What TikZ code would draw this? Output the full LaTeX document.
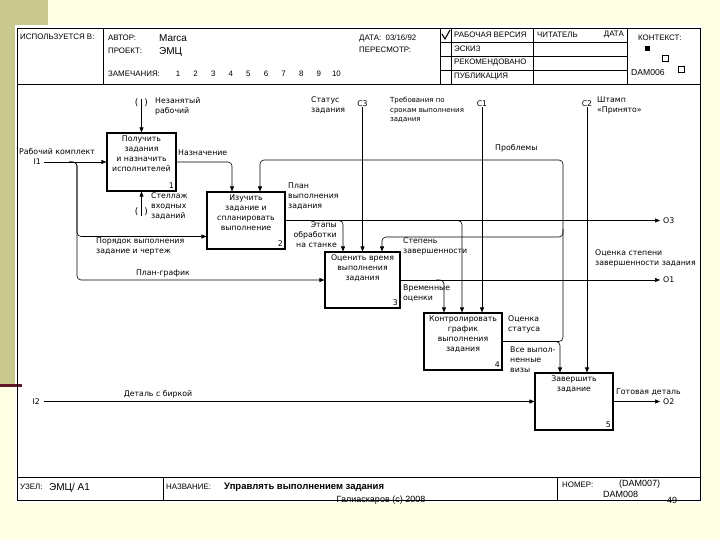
\documentclass[tikz,border=0pt]{standalone}
\usepackage{fontspec}
\setmainfont{DejaVu Sans}
\newfontfamily\formfont{Liberation Sans}
\usetikzlibrary{arrows.meta}

\definecolor{cream}{RGB}{255,255,230}
\definecolor{olivestrip}{RGB}{201,201,143}
\definecolor{maroonbar}{RGB}{96,24,40}

\newcommand{\lblfont}{\fontsize{7.8}{10}\selectfont}
\newcommand{\smallfont}{\fontsize{7}{9.5}\selectfont}
\newcommand{\hdrfont}{\formfont\fontsize{7.9}{9}\selectfont}
\newcommand{\bigfont}{\formfont\fontsize{10}{11}\selectfont}

\tikzset{
  box/.style={draw, line width=1.1pt, inner sep=0pt, minimum width=78pt, minimum height=57pt},
  boxtext/.style={anchor=north, align=center, font=\lblfont, inner sep=3pt},
  num/.style={anchor=south east, inner sep=2.5pt, font=\lblfont},
  lbl/.style={anchor=north west, align=left, font=\lblfont, inner sep=0pt},
  arr/.style={-{Triangle[length=5pt,width=4pt]}, line width=0.6pt, rounded corners=4pt},
  hdr/.style={anchor=west, font=\hdrfont, inner sep=0pt},
  tunnel/.style={font=\fontsize{9}{10}\selectfont, inner sep=0pt}
}

\begin{document}
\begin{tikzpicture}[x=1pt,y=-1pt]
\useasboundingbox (0,0) rectangle (720,540);
% slide background
\fill[cream] (0,0) rectangle (720,540);
\fill[olivestrip] (0,0) rectangle (48,25);
\fill[olivestrip] (0,0) rectangle (15,384);
\fill[white] (15,25) rectangle (702,503);
\fill[maroonbar] (0,384) rectangle (22,387);

% form frame
\draw[line width=0.8pt] (17,28) rectangle (700,500);
\draw[line width=0.8pt] (17,84) -- (700,84);
\draw[line width=0.8pt] (103,28) -- (103,84);
\draw[line width=0.8pt] (17,477) -- (700,477);
\draw[line width=0.8pt] (163,477) -- (163,500);
\draw[line width=0.8pt] (557,477) -- (557,500);
\draw[line width=0.8pt] (440,28) rectangle (627,84);
\foreach \y in {42,56,70} \draw[line width=0.8pt] (440,\y) -- (627,\y);
\draw[line width=0.8pt] (451,28) -- (451,84);
\draw[line width=0.8pt] (533,28) -- (533,84);
\draw[line width=1.1pt] (442,34) -- (445,39) -- (450,30);

% header
\node[hdr] (usedat) at (20,37) {ИСПОЛЬЗУЕТСЯ В:};
\node[hdr] (author) at (108,38) {АВТОР:};
\node[hdr, font=\bigfont] (authorname) at (159,38) {Marca};
\node[hdr] (project) at (108,51) {ПРОЕКТ:};
\node[hdr, font=\bigfont] (projectname) at (159,52) {ЭМЦ};
\node[hdr] (notes) at (108,74) {ЗАМЕЧАНИЯ:};
\foreach \n in {1,...,10}
  \node[hdr, anchor=center] (note\n) at ({178+17.6*(\n-1)},74) {\n};
\node[hdr] (date) at (359,38) {ДАТА:\ \ 03/16/92};
\node[hdr] (rev) at (359,50) {ПЕРЕСМОТР:};
\node[hdr] (working) at (454,35) {РАБОЧАЯ ВЕРСИЯ};
\node[hdr] (draft) at (454,49) {ЭСКИЗ};
\node[hdr] (recommended) at (454,63) {РЕКОМЕНДОВАНО};
\node[hdr] (publication) at (454,77) {ПУБЛИКАЦИЯ};
\node[hdr] (reader) at (537,35) {ЧИТАТЕЛЬ};
\node[hdr, anchor=east] (readerdate) at (624,35) {ДАТА};
\node[hdr] (context) at (638,38) {КОНТЕКСТ:};
\fill (645,46) rectangle (650,51);
\draw[line width=0.6pt] (662,55) rectangle (668,61);
\draw[line width=0.6pt] (678,66) rectangle (684,72);
\node[hdr, font=\formfont\fontsize{8.6}{10}\selectfont] (ctxnode) at (631,73) {DAM006};

% footer
\node[hdr] (nodelbl) at (20,487) {УЗЕЛ:};
\node[hdr, font=\bigfont] (nodeval) at (49,488) {ЭМЦ/ А1};
\node[hdr] (titlelbl) at (166,487) {НАЗВАНИЕ:};
\node[hdr, font=\formfont\bfseries\fontsize{9.5}{11}\selectfont] (titleval) at (224,487) {Управлять выполнением задания};
\node[hdr] (numlbl) at (562,485) {НОМЕР:};
\node[hdr, font=\formfont\fontsize{9}{10}\selectfont] (numval) at (619,484) {(DAM007)};
\node[hdr, font=\formfont\fontsize{9}{10}\selectfont] (numval2) at (603,494) {DAM008};
\node[font=\formfont\fontsize{9}{10}\selectfont, inner sep=0pt] (copyright) at (381,500) {Галиаскаров (с) 2008};
\node[font=\formfont\fontsize{9}{10}\selectfont, inner sep=0pt] (page) at (672,500) {49};

% activity boxes
\node[box, minimum width=69pt, minimum height=58pt] (b1) at (141.5,162) {};
\node[boxtext] (t1) at (b1.north) {Получить\\задания\\и назначить\\исполнителей};
\node[num] (n1) at (b1.south east) {1};
\node[box] (b2) at (246,220.5) {};
\node[boxtext] (t2) at (b2.north) {Изучить\\задание и\\спланировать\\выполнение};
\node[num] (n2) at (b2.south east) {2};
\node[box, minimum width=75pt, minimum height=56pt] (b3) at (362.5,280) {};
\node[boxtext] (t3) at (b3.north) {Оценить время\\выполнения\\задания};
\node[num] (n3) at (b3.south east) {3};
\node[box] (b4) at (463,341.5) {};
\node[boxtext] (t4) at (b4.north) {Контролировать\\график\\выполнения\\задания};
\node[num] (n4) at (b4.south east) {4};
\node[box] (b5) at (574,401.5) {};
\node[boxtext] (t5) at (b5.north) {Завершить\\задание};
\node[num] (n5) at (b5.south east) {5};

% tunnels and boundary ends
\node[tunnel] (tu1) at (141.5,103) {(\hspace{6pt})};
\node[tunnel] (tu2) at (141.5,212) {(\hspace{6pt})};
\node[lbl, anchor=south] (c3) at (362.5,107) {C3};
\node[lbl, anchor=south] (c1) at (482,107) {C1};
\node[lbl, anchor=south] (c2) at (587,107) {C2};
\coordinate (i1) at (44,162);
\coordinate (i2) at (44,401.5);
\coordinate (o3) at (660,220.5);
\coordinate (o1) at (660,280);
\coordinate (o2) at (660,401.5);
\coordinate (j1) at (69,162);
\coordinate (j2) at (335,220.5);
\coordinate (j3) at (454,220.5);
\coordinate (j4) at (436,280);
\coordinate (j6) at (552,341.5);
\coordinate (k1) at (563,160);
\coordinate (k2) at (563,229);
\coordinate (k3) at (382,237);

% arrows
\draw[arr] (tu1.north) -- (b1.north);
\draw[arr] (tu2.south) -- (b1.south);
\draw[arr] (i1) -- (b1.west);
\draw[arr] (j1) -- ++(8,0) |- ([yshift=-16pt]b2.west);
\draw[arr] (j1) -- ++(8,0) |- (b3.west);
\draw[arr] (b1.east) -| ([xshift=-14pt]b2.north);
\draw[arr] (c3.south) -- (b3.north);
\draw[arr] (c1.south) -- ([xshift=19pt]b4.north);
\draw[arr] (c2.south) -- ([xshift=13pt]b5.north);
\draw[arr] (b2.east) -- (o3);
\draw[arr] (j2) -| ([xshift=-19.5pt]b3.north);
\draw[arr] (j3) -| ([xshift=-1pt]b4.north);
\draw[arr] (b3.east) -- (o1);
\draw[arr] (j4) -| ([xshift=-19pt]b4.north);
\draw[arr] (b4.east) -| (k1) -| ([xshift=14pt]b2.north);
\draw[arr] (k2) |- (k3) -- ([xshift=19.5pt]b3.north);
\draw[arr] (j6) -| ([xshift=-14pt]b5.north);
\draw[arr] (i2) -- (b5.west);
\draw[arr] (b5.east) -- (o2);

% arrow labels
\node[lbl] (lworker) at (155,97) {Незанятый\\рабочий};
\node[lbl] (lrack) at (151,193) {Стеллаж\\входных\\заданий};
\node[lbl, anchor=west] (lkit) at (19,152) {Рабочий комплект};
\node[lbl, anchor=east] (li1) at (41,162) {I1};
\node[lbl, anchor=east] (li2) at (40,401.5) {I2};
\node[lbl, anchor=west] (lo3) at (663,220.5) {O3};
\node[lbl, anchor=west] (lo1) at (663,280) {O1};
\node[lbl, anchor=west] (lo2) at (663,401.5) {O2};
\node[lbl, anchor=west] (lassign) at (178,153) {Назначение};
\node[lbl] (lplan) at (288,183) {План\\выполнения\\задания};
\node[lbl, anchor=north east, align=right] (lsteps) at (337,222) {Этапы\\обработки\\на станке};
\node[lbl] (lstatus) at (311,97) {Статус\\задания};
\node[lbl, font=\smallfont] (lterms) at (390,97) {Требования по\\срокам выполнения\\задания};
\node[lbl] (lstamp) at (597,97) {Штамп\\<<Принято>>};
\node[lbl, anchor=west] (lproblems) at (495,148) {Проблемы};
\node[lbl] (ldegree) at (403,238) {Степень\\завершенности};
\node[lbl] (lestimate) at (595,250) {Оценка степени\\завершенности задания};
\node[lbl] (ltime) at (403,285) {Временные\\оценки};
\node[lbl] (lstatusest) at (508,316) {Оценка\\статуса};
\node[lbl] (ldone) at (510,347) {Все выпол-\\ненные\\визы};
\node[lbl] (lorder) at (96,238) {Порядок выполнения\\задание и чертеж};
\node[lbl, anchor=center] (lschedule) at (163,273) {План-график};
\node[lbl, anchor=center] (lpart) at (158,394) {Деталь с биркой};
\node[lbl, anchor=west] (lready) at (616,392) {Готовая деталь};
\end{tikzpicture}
\end{document}
